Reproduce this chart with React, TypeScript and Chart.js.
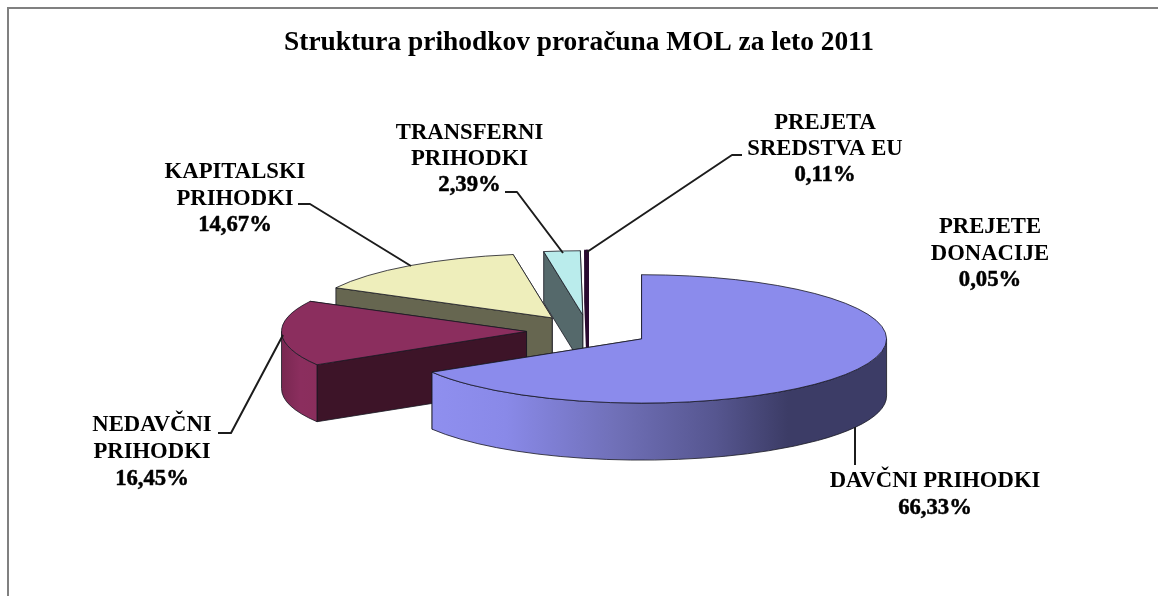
import React, { useEffect, useRef } from "react";
import { Chart, registerables } from "chart.js";

Chart.register(...registerables);

const categories = [
  "DAVČNI PRIHODKI",
  "NEDAVČNI PRIHODKI",
  "KAPITALSKI PRIHODKI",
  "TRANSFERNI PRIHODKI",
  "PREJETA SREDSTVA EU",
  "PREJETE DONACIJE",
];
const values = [66.33, 16.45, 14.67, 2.39, 0.11, 0.05];
const topColors = ["#8B8BEC", "#8B2E5E", "#EEEEBB", "#BAECEC", "#3A1038", "#3A1038"];
const faceColors = ["#6A6AB0", "#3D1428", "#666650", "#55696B", "#2A0A30", "#2A0A30"];
const depths = [57, 57, 45, 51, 51, 51];
const paintOrder = [3, 4, 5, 2, 1, 0];

const TITLE = "Struktura prihodkov proračuna MOL za leto 2011";
const LABEL_FONT = 'bold 22.7px "Liberation Serif"';
const CX = 588, CY = 331, EXPLODE = 61.5, TILT = 0.262, RADIUS = 245;

const labels = [
  { x: 235, y: 178, dy: 26.5, lines: ["KAPITALSKI", "PRIHODKI", "14,67%"] },
  { x: 469.5, y: 139, dy: 26, lines: ["TRANSFERNI", "PRIHODKI", "2,39%"] },
  { x: 825, y: 129, dy: 26, lines: ["PREJETA", "SREDSTVA EU", "0,11%"] },
  { x: 990, y: 233, dy: 26.5, lines: ["PREJETE", "DONACIJE", "0,05%"] },
  { x: 152, y: 431, dy: 27, lines: ["NEDAVČNI", "PRIHODKI", "16,45%"] },
  { x: 935, y: 487, dy: 27, lines: ["DAVČNI PRIHODKI", "66,33%"] },
];
const leaders: number[][][] = [
  [[298, 204], [310, 204], [411, 266]],
  [[505, 192], [517, 192], [563, 253]],
  [[742, 155], [732, 155], [587, 252]],
  [[218, 433], [231, 433], [283, 335]],
  [[855, 427], [855, 465]],
];
const EDGE = "rgba(25,25,35,0.8)";

function edgeFor(c: CanvasRenderingContext2D, i: number) {
  c.strokeStyle = i >= 4 ? "#2A0A30" : EDGE;
  c.lineWidth = i >= 4 ? 2 : 1;
}

function wedgeWalls(ctx: CanvasRenderingContext2D, i: number, vx: number, vy: number, a0: number, a1: number) {
  const d = depths[i], ry = RADIUS * TILT;
  const face = (a: number) => {
    const ex = vx + RADIUS * Math.cos(a), ey = vy + ry * Math.sin(a);
    ctx.beginPath();
    ctx.moveTo(vx, vy); ctx.lineTo(ex, ey); ctx.lineTo(ex, ey + d); ctx.lineTo(vx, vy + d);
    ctx.closePath();
    ctx.fillStyle = faceColors[i];
    ctx.fill();
    edgeFor(ctx, i);
    ctx.stroke();
  };
  face(a1);
  face(a0);
  // Visible part of the rim: the front half of the ellipse.
  const from = Math.max(a0, 0), to = Math.min(a1, Math.PI);
  if (to > from) {
    let fill: CanvasGradient | string = topColors[i];
    if (i === 0) {
      const g = ctx.createLinearGradient(433, 0, 888, 0);
      g.addColorStop(0, "#8F8FEF");
      g.addColorStop(0.16, "#8989E8");
      g.addColorStop(0.4, "#7070B8");
      g.addColorStop(0.62, "#565690");
      g.addColorStop(0.78, "#3C3C66");
      g.addColorStop(1, "#3C3C66");
      fill = g;
    } else if (i === 1) {
      const g = ctx.createLinearGradient(283, 0, 318, 0);
      g.addColorStop(0, "#7A2852");
      g.addColorStop(0.5, "#8B2E5E");
      g.addColorStop(1, "#8A2E5C");
      fill = g;
    }
    ctx.beginPath();
    ctx.ellipse(vx, vy, RADIUS, ry, 0, from, to);
    ctx.ellipse(vx, vy + d, RADIUS, ry, 0, to, from, true);
    ctx.closePath();
    ctx.fillStyle = fill;
    ctx.fill();
    edgeFor(ctx, i);
    ctx.stroke();
  }
}

const pie3d = {
  id: "pie3d",
  beforeDraw(chart: any) {
    const c = chart.ctx;
    c.save();
    c.fillStyle = "#808080";
    c.fillRect(7, 7, chart.width - 7, 2);
    c.fillRect(7, 7, 2, chart.height - 7);
    c.restore();
  },
  beforeDatasetsDraw(chart: any) {
    const c: CanvasRenderingContext2D = chart.ctx;
    const arcs = chart.getDatasetMeta(0).data;
    for (const i of paintOrder) {
      const arc = arcs[i];
      const mid = (arc.startAngle + arc.endAngle) / 2;
      const vx = CX + EXPLODE * Math.cos(mid);
      const vy = CY + EXPLODE * TILT * Math.sin(mid);
      c.save();
      wedgeWalls(c, i, vx, vy, arc.startAngle, arc.endAngle);
      c.restore();
      c.save();
      c.translate(vx, vy);
      c.scale(1, TILT);
      c.translate(-arc.x, -arc.y);
      arc.draw(c);
      c.restore();
      c.save();
      c.beginPath();
      c.moveTo(vx, vy);
      c.ellipse(vx, vy, RADIUS, RADIUS * TILT, 0, arc.startAngle, arc.endAngle);
      c.closePath();
      edgeFor(c, i);
      c.stroke();
      c.restore();
    }
    return false;
  },
  afterDraw(chart: any) {
    const c: CanvasRenderingContext2D = chart.ctx;
    c.save();
    c.strokeStyle = "#1c1c1c";
    c.lineWidth = 2;
    c.lineJoin = "round";
    for (const pts of leaders) {
      c.beginPath();
      pts.forEach(([x, y], k) => (k ? c.lineTo(x, y) : c.moveTo(x, y)));
      c.stroke();
    }
    c.fillStyle = "#000";
    c.strokeStyle = "#000";
    c.lineWidth = 0.5;
    c.textAlign = "center";
    c.textBaseline = "alphabetic";
    c.font = LABEL_FONT;
    for (const l of labels) {
      l.lines.forEach((t, k) => {
        c.fillText(t, l.x, l.y + k * l.dy);
        if (t.endsWith("%")) c.strokeText(t, l.x, l.y + k * l.dy);
      });
    }
    c.restore();
  },
};

export default function App() {
  const ref = useRef<HTMLCanvasElement>(null);
  useEffect(() => {
    document.body.style.margin = "0";
    const chart = new Chart(ref.current!, {
      type: "pie",
      data: {
        labels: categories,
        datasets: [{ data: values, backgroundColor: topColors, borderWidth: 0 }],
      },
      options: {
        responsive: false,
        animation: false,
        radius: RADIUS,
        layout: { padding: 0 },
        plugins: {
          legend: { display: false },
          tooltip: { enabled: false },
          title: {
            display: true,
            text: TITLE,
            color: "#000",
            font: { family: '"Liberation Serif"', size: 27.4, weight: "bold" },
            padding: { top: 26, bottom: 0 },
          },
        },
      } as any,
      plugins: [pie3d as any],
    });
    return () => chart.destroy();
  }, []);
  return <canvas ref={ref} width={1158} height={596} style={{ display: "block" }} />;
}
